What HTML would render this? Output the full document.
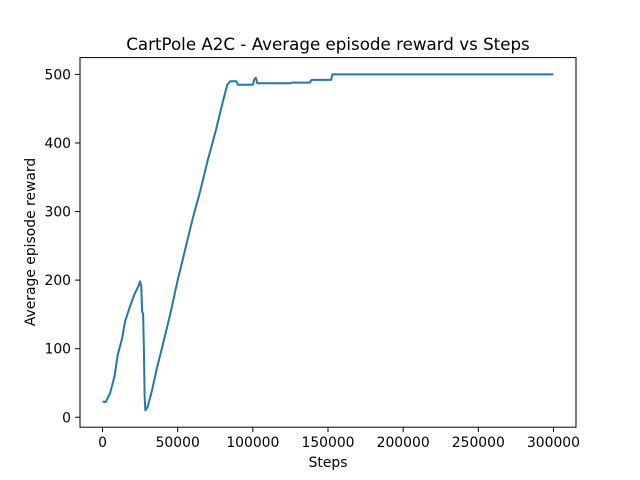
<!DOCTYPE html>
<html><head><meta charset="utf-8"><style>
body{margin:0;background:#fff;}
svg{display:block;font-family:"DejaVu Sans","Liberation Sans",sans-serif;}
</style></head><body>
<svg id="chart" width="640" height="480"></svg>
<script>
const steps = [0,2000,5000,8000,10000,13000,15000,18000,21000,24000,25000,25800,26300,27000,27500,28000,28500,30000,33000,36000,40000,45000,50000,55000,60000,65000,70000,75000,80000,83000,85000,89000,90000,100000,101000,102000,103000,125000,126000,138000,139000,152000,153000,300000];
const rewards = [23,22,35,60,90,115,140,160,178,192,198,190,155,150,100,30,10,15,40,70,105,150,200,245,290,330,375,415,460,485,490,490,485,485,493,495,487,487,488,488,492,492,500,500];
const xTicks = [0,50000,100000,150000,200000,250000,300000];
const yTicks = [0,100,200,300,400,500];
const L=80,R=576,T=57.6,B=427.2;
const xmin=-15000,xmax=315000,ymin=-14.5,ymax=524.5;
const sx=v=>L+(v-xmin)/(xmax-xmin)*(R-L);
const sy=v=>B-(v-ymin)/(ymax-ymin)*(B-T);
const svg=document.getElementById('chart');
const NS='http://www.w3.org/2000/svg';
function mk(tag,attrs,parent){const e=document.createElementNS(NS,tag);for(const k in attrs)e.setAttribute(k,attrs[k]);(parent||svg).appendChild(e);return e;}
let t=mk('text',{x:328,y:50,'text-anchor':'middle','font-size':16.7});
t.textContent='CartPole A2C - Average episode reward vs Steps';


let d=steps.map((s,i)=>(i?'L':'M')+sx(s).toFixed(2)+','+sy(rewards[i]).toFixed(2)).join('');
let p=mk('path',{d:d,fill:'none',stroke:'#1f77b4','stroke-width':2,'stroke-linejoin':'round'});


let fr=mk('rect',{x:L,y:T,width:R-L,height:B-T,fill:'none',stroke:'#000','stroke-width':1});


xTicks.forEach(v=>{const x=sx(v);mk('line',{x1:x,x2:x,y1:B,y2:B+4.9,stroke:'#000','stroke-width':1});
 const tx=mk('text',{x:x,y:B+20,'text-anchor':'middle','font-size':13.9});tx.textContent=v;
 
 });
yTicks.forEach(v=>{const y=sy(v);mk('line',{x1:L-4.9,x2:L,y1:y,y2:y,stroke:'#000','stroke-width':1});
 const tx=mk('text',{x:L-9,y:y+5,'text-anchor':'end','font-size':13.9});tx.textContent=v;
 
 });
let xl=mk('text',{x:328,y:467,'text-anchor':'middle','font-size':13.9});xl.textContent='Steps';


let yl=mk('text',{x:0,y:0,'text-anchor':'middle','font-size':13.9,transform:'translate(35,242) rotate(-90)'});yl.textContent='Average episode reward';


</script>
</body></html>
